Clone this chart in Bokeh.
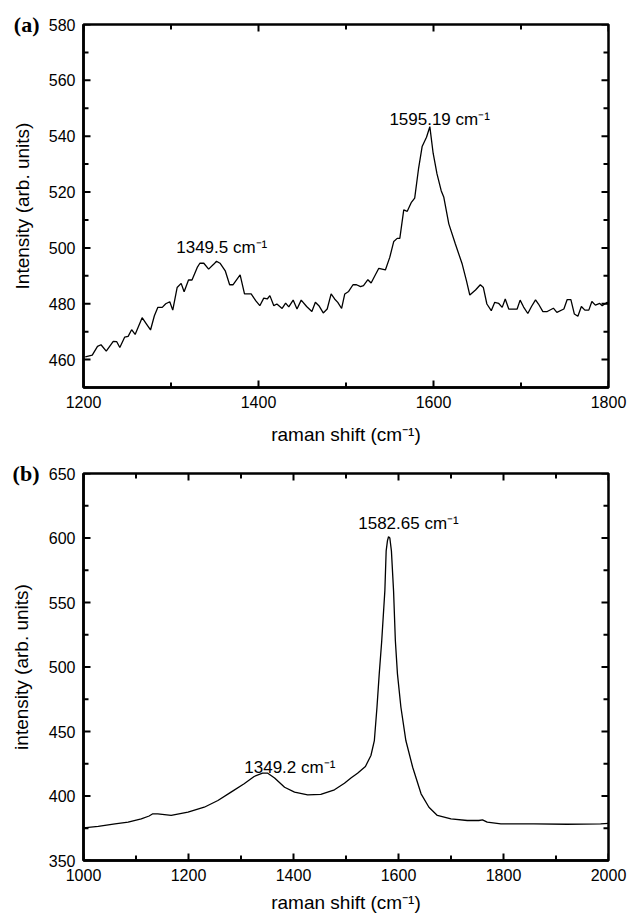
import math
from bokeh.plotting import figure
from bokeh.models import SingleIntervalTicker, FixedTicker, Range1d, Label, LinearAxis
from bokeh.layouts import column
from bokeh.embed import file_html
from bokeh.resources import INLINE

# ---------------- data: panel (a) ----------------
a_shift = [1202, 1210, 1216, 1220, 1226, 1234, 1238, 1241.5, 1247, 1251, 1255, 1259,
           1267, 1272, 1276.6, 1281, 1285, 1290, 1294, 1298.6, 1302, 1307, 1311.6, 1315,
           1320, 1324, 1330, 1333, 1337.5, 1343, 1349, 1352, 1356, 1362, 1367, 1371,
           1379, 1384, 1391.6, 1397, 1401.5, 1406, 1410, 1413, 1417.5, 1421, 1427, 1431,
           1434.6, 1439.6, 1444, 1448.8, 1455, 1461, 1465, 1469, 1474, 1478.5, 1483, 1487,
           1490.6, 1495, 1498.6, 1503, 1508, 1512, 1516.6, 1520, 1525, 1528.7, 1533, 1537.5,
           1545, 1550, 1554.6, 1558.5, 1561.5, 1566, 1570, 1574.5, 1578.5, 1583, 1587, 1592,
           1595.8, 1599.6, 1604, 1608.8, 1611.8, 1617.5, 1625, 1632.8, 1637.7, 1641.5, 1648,
           1653.5, 1657, 1661, 1666, 1670, 1674.6, 1678.5, 1682, 1686, 1695.6, 1699, 1703,
           1707.8, 1712, 1716.6, 1720, 1725, 1730, 1737, 1741, 1749, 1752.8, 1757, 1761,
           1765, 1769, 1773, 1777.5, 1781, 1785, 1790, 1792.8, 1798.5, 1800]
a_intensity = [461, 461.6, 464.7, 465.3, 463, 466.5, 466.4, 464.3, 468, 468.3, 470.7, 469,
               475, 472.7, 470.6, 475.7, 478.7, 478.7, 480, 480.7, 477.7, 485.8, 487.3, 484.3,
               488.5, 488.5, 493, 494.5, 494.5, 492.4, 494.2, 495.2, 494.5, 491.8, 486.8, 486.8,
               490.3, 483.5, 483.5, 481, 479.3, 482, 481.7, 482.9, 479.3, 479.9, 478.3, 480.2,
               478.9, 481.3, 478.1, 481.3, 479, 477.2, 480.5, 479.3, 476.7, 478.1, 483.5, 481.7,
               480.5, 478.3, 483.5, 484.4, 486.8, 486.8, 486.1, 486.5, 488.6, 487.4, 490, 492.7,
               492.1, 496.6, 502.3, 503.4, 503.4, 513.6, 513.1, 516.2, 517.8, 528.6, 536.3, 539.6,
               543.4, 533.9, 526.5, 520.5, 518.1, 508.6, 501.4, 494.2, 488.2, 483.1, 484.9,
               486.8, 485.8, 479.9, 477.5, 480.5, 480.1, 478.7, 481.7, 478.1, 478.1, 481.3, 478.8,
               476.5, 479, 481.4, 479.9, 477.2, 477.2, 478.4, 476.9, 478.1, 481.5, 481.5, 476.3,
               475.5, 479.0, 477.7, 477.7, 480.8, 479.5, 480.1, 479.3, 480.5, 480.3]
a_xticks = [1200, 1400, 1600, 1800]
a_xminor = [1300, 1500, 1700]
a_yticks = [460, 480, 500, 520, 540, 560, 580]
a_yminor = [450, 470, 490, 510, 530, 550, 570]

# ---------------- data: panel (b) ----------------
b_shift = [1000, 1028, 1060, 1085, 1110, 1125, 1132, 1141.5, 1167, 1199, 1230, 1256, 1281,
           1306, 1325, 1341, 1351, 1364, 1383, 1402, 1427, 1452, 1478, 1497, 1510, 1522,
           1537, 1547.5, 1554, 1559, 1563.3, 1568, 1574, 1576.5, 1579, 1581, 1583.5, 1586.5,
           1590.6, 1594, 1598, 1604.6, 1614, 1627, 1643, 1658, 1674, 1700, 1731, 1753, 1760,
           1769, 1795, 1858, 1921, 1985, 2000]
b_intensity = [375.3, 376.5, 378.4, 379.7, 382.3, 384.5, 386.2, 386.2, 384.9, 387.5, 391.3,
               396.5, 403, 409.5, 415.1, 417.7, 417.7, 414, 406.8, 403, 400.9, 401.2, 404.8,
               409.9, 414.1, 417.7, 422.9, 431.4, 443, 468.8, 494.7, 520, 559, 590, 598, 601,
               600, 590, 559, 520.5, 494.7, 468.8, 443, 422.3, 401.7, 391.3, 384.9, 382.3, 381,
               381, 381.5, 379.7, 378.4, 378.4, 378.1, 378.4, 378.8]
b_xticks = [1000, 1200, 1400, 1600, 1800, 2000]
b_xminor = [1100, 1300, 1500, 1700, 1900]
b_yticks = [350, 400, 450, 500, 550, 600, 650]
b_yminor = [375, 425, 475, 525, 575, 625]

# peak annotations (text, x, y)
a_peak_text = ["1595.19 cm\u207b\u00b9", "1349.5 cm\u207b\u00b9"]
a_peak_x = [1607, 1358]
a_peak_y = [546, 500]
b_peak_text = ["1582.65 cm\u207b\u00b9", "1349.2 cm\u207b\u00b9"]
b_peak_x = [1619, 1393]
b_peak_y = [611, 422]

FONT = "Liberation Sans"


def add_ticks(p, xr, yr, xmaj, xmin, ymaj, ymin):
    for vals, ln in ((xmaj, 7), (xmin, 5)):
        p.ray(x=vals, y=[yr.start] * len(vals), length=ln, length_units="screen",
              angle=math.pi / 2, line_color="black", line_width=2)
        p.ray(x=vals, y=[yr.end] * len(vals), length=ln, length_units="screen",
              angle=-math.pi / 2, line_color="black", line_width=2)
    for vals, ln in ((ymaj, 7), (ymin, 5)):
        p.ray(x=[xr.start] * len(vals), y=vals, length=ln, length_units="screen",
              angle=0, line_color="black", line_width=2)
        p.ray(x=[xr.end] * len(vals), y=vals, length=ln, length_units="screen",
              angle=math.pi, line_color="black", line_width=2)


def style_axes(p, xint, yint, xlabel, ylabel, panel_tag, tag_value, xstandoff):
    p.xaxis.ticker = SingleIntervalTicker(interval=xint, num_minor_ticks=0)
    p.yaxis.ticker = SingleIntervalTicker(interval=yint, num_minor_ticks=0)
    # outer left axis carries the panel tag "(a)"/"(b)" and the y-axis title
    tag_axis = LinearAxis(ticker=FixedTicker(ticks=[tag_value]),
                          major_label_overrides={tag_value: panel_tag})
    p.add_layout(tag_axis, "left")
    for ax in p.axis:
        ax.axis_line_width = 2.5
        ax.axis_line_color = "black"
        ax.major_tick_in = 0
        ax.major_tick_out = 0
        ax.minor_tick_in = 0
        ax.minor_tick_out = 0
        ax.major_label_text_font = FONT
        ax.major_label_text_font_size = "16px"
        ax.major_label_text_color = "black"
        ax.axis_label_text_font = FONT
        ax.axis_label_text_font_size = "19px"
        ax.axis_label_text_font_style = "normal"
        ax.axis_label_text_color = "black"
        ax.major_label_standoff = 8
    tag_axis.axis_line_color = None
    tag_axis.major_label_text_font = "Liberation Serif"
    tag_axis.major_label_text_font_style = "bold"
    tag_axis.major_label_text_font_size = "22px"
    tag_axis.major_label_standoff = 6
    tag_axis.axis_label = ylabel
    tag_axis.axis_label_standoff = -22
    p.xaxis.axis_label = xlabel
    p.xaxis.axis_label_standoff = xstandoff
    p.grid.visible = False
    p.outline_line_color = "black"
    p.outline_line_width = 2.5


# ---------------- panel (a) ----------------
xa = Range1d(1200, 1800)
ya = Range1d(450, 580)
pa = figure(width=627, height=455, output_backend="svg", toolbar_location=None,
            x_range=xa, y_range=ya,
            min_border_left=83, min_border_right=19, min_border_top=24, min_border_bottom=68)
pa.line(a_shift, a_intensity, line_color="black", line_width=1.3)
style_axes(pa, 200, 20, "raman shift (cm\u207b\u00b9)", "Intensity (arb. units)", "(a)", 580, 13)
add_ticks(pa, xa, ya, a_xticks, a_xminor, a_yticks, a_yminor)
for t, x, y in zip(a_peak_text, a_peak_x, a_peak_y):
    pa.add_layout(Label(x=x, y=y, text=t, text_align="center", text_baseline="alphabetic",
                        text_font=FONT, text_font_size="17px", text_color="black"))

# ---------------- panel (b) ----------------
xb = Range1d(1000, 2000)
yb = Range1d(350, 650)
pb = figure(width=627, height=463, output_backend="svg", toolbar_location=None,
            x_range=xb, y_range=yb,
            min_border_left=82, min_border_right=19, min_border_top=18, min_border_bottom=58)
pb.line(b_shift, b_intensity, line_color="black", line_width=1.3)
style_axes(pb, 200, 50, "raman shift (cm\u207b\u00b9)", "intensity (arb. units)", "(b)", 650, 8)
add_ticks(pb, xb, yb, b_xticks, b_xminor, b_yticks, b_yminor)
for t, x, y in zip(b_peak_text, b_peak_x, b_peak_y):
    pb.add_layout(Label(x=x, y=y, text=t, text_align="center", text_baseline="alphabetic",
                        text_font=FONT, text_font_size="17px", text_color="black"))

layout = column(pa, pb, spacing=0)
open("out.html", "w").write(file_html(layout, INLINE))
